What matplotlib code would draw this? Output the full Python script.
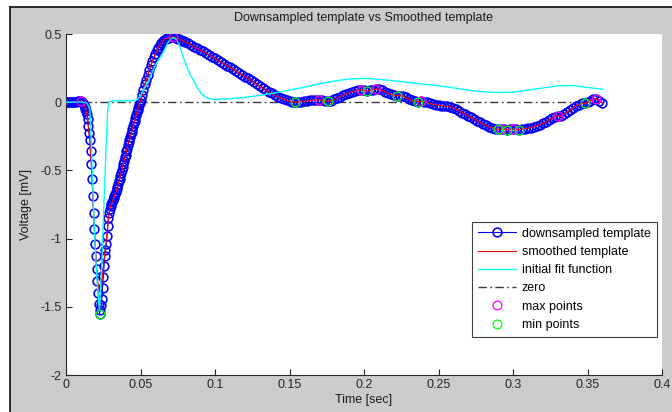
import numpy as np
import matplotlib
matplotlib.use("Agg")
import matplotlib.pyplot as plt
from matplotlib.patches import Rectangle
from matplotlib.lines import Line2D

plt.rcParams['font.family'] = ['Liberation Sans', 'DejaVu Sans']

# ---- downsampled template (voltage in mV), sampled in segments of different step
seg1_start, seg1_step = 0.000, 0.001
seg1_v = [0.000, 0.000, 0.000, 0.001, 0.001, 0.002, 0.003, 0.004, 0.006, 0.007, 0.008]

seg2_start, seg2_step = 0.011, 0.0005
seg2_v = [0.004, -0.005, -0.018, -0.032, -0.048, -0.065, -0.085, -0.125, -0.175, -0.225,
          -0.280, -0.360, -0.450, -0.560, -0.690, -0.810, -0.930, -1.040, -1.130, -1.220,
          -1.310, -1.400, -1.480, -1.550, -1.520, -1.490, -1.440, -1.360, -1.280, -1.200,
          -1.130, -1.080, -1.040, -0.980, -0.910, -0.850, -0.810, -0.780, -0.760, -0.745,
          -0.730, -0.715, -0.700, -0.685, -0.670, -0.655, -0.640, -0.620, -0.600, -0.580,
          -0.560, -0.540, -0.520, -0.500, -0.475, -0.450, -0.430, -0.405, -0.385, -0.360,
          -0.340, -0.315, -0.295, -0.275, -0.255, -0.235, -0.215, -0.195, -0.175, -0.155,
          -0.135, -0.115, -0.095, -0.075, -0.058, -0.040, -0.022, -0.004, 0.015]

seg3_start, seg3_step = 0.051, 0.001
seg3_v = [0.050, 0.090, 0.130, 0.165, 0.200, 0.235, 0.270, 0.300, 0.330, 0.355,
          0.380, 0.400, 0.420, 0.435, 0.448, 0.458, 0.465, 0.470, 0.473, 0.475,
          0.477, 0.478, 0.476, 0.472, 0.467, 0.462, 0.457, 0.452, 0.447, 0.442]

seg4_start, seg4_step = 0.082, 0.002
seg4_v = [0.432, 0.420, 0.408, 0.396, 0.384, 0.372, 0.360, 0.347, 0.334, 0.321,
          0.308, 0.295, 0.282, 0.269, 0.256, 0.243, 0.230, 0.216, 0.202, 0.188,
          0.174, 0.160, 0.146, 0.132, 0.118, 0.104, 0.090, 0.077, 0.064, 0.052,
          0.041, 0.031, 0.022, 0.014, 0.008, 0.003, 0.001, 0.002, 0.004, 0.007,
          0.010, 0.013, 0.015, 0.017, 0.018, 0.013, 0.009, 0.008, 0.012, 0.020,
          0.030, 0.040, 0.050, 0.060, 0.068, 0.076, 0.083, 0.088, 0.090, 0.087,
          0.082, 0.086, 0.093, 0.097, 0.094, 0.088, 0.078, 0.067, 0.058, 0.051,
          0.047, 0.049, 0.044, 0.035, 0.025, 0.015, 0.007, 0.005, 0.008, 0.004,
          -0.002, -0.008, -0.014, -0.018, -0.022, -0.025, -0.028, -0.031, -0.035, -0.042,
          -0.052, -0.064, -0.076, -0.088, -0.100, -0.112, -0.124, -0.136, -0.148, -0.160,
          -0.170, -0.179, -0.187, -0.194, -0.200, -0.196, -0.198, -0.202, -0.199, -0.197,
          -0.199, -0.203, -0.198, -0.194, -0.190, -0.186, -0.180, -0.172, -0.164, -0.155,
          -0.146, -0.132, -0.118, -0.106, -0.100, -0.101, -0.090, -0.075, -0.060, -0.045,
          -0.030, -0.018, -0.008, -0.009, 0.002, 0.012, 0.020, 0.024, 0.012, -0.008]

# smoothed template differs from the downsampled one only around the sharp dip
smooth_dip_start = 0.0175
smooth_dip_v = [-0.56, -0.68, -0.80, -0.91, -1.02, -1.11, -1.20, -1.27, -1.33, -1.37,
                -1.39, -1.39, -1.37, -1.33, -1.28, -1.22, -1.16, -1.10, -1.06, -1.02, -0.97]

# initial fit function
fit_t = [0.000, 0.010, 0.014, 0.016, 0.017, 0.018, 0.019, 0.020, 0.021, 0.022,
         0.0225, 0.023, 0.024, 0.025, 0.026, 0.027, 0.028, 0.029, 0.031, 0.035,
         0.040, 0.045, 0.048, 0.050, 0.052, 0.054, 0.056, 0.058, 0.060, 0.062,
         0.064, 0.066, 0.068, 0.070, 0.072, 0.074, 0.076, 0.078, 0.080, 0.082,
         0.084, 0.086, 0.088, 0.090, 0.092, 0.094, 0.096, 0.100, 0.110, 0.120,
         0.130, 0.140, 0.150, 0.160, 0.170, 0.180, 0.190, 0.200, 0.210, 0.220,
         0.230, 0.240, 0.250, 0.260, 0.270, 0.280, 0.290, 0.300, 0.310, 0.320,
         0.330, 0.340, 0.350, 0.360]
fit_v = [0.000, 0.002, -0.005, -0.050, -0.300, -0.620, -0.920, -1.150, -1.330, -1.470,
         -1.520, -1.400, -1.200, -0.880, -0.600, -0.300, -0.060, 0.000, 0.010, 0.010,
         0.010, 0.012, 0.020, 0.045, 0.090, 0.130, 0.170, 0.220, 0.270, 0.310,
         0.340, 0.380, 0.430, 0.460, 0.475, 0.460, 0.420, 0.350, 0.290, 0.235,
         0.190, 0.150, 0.110, 0.075, 0.050, 0.035, 0.027, 0.020, 0.025, 0.035,
         0.050, 0.068, 0.088, 0.110, 0.135, 0.155, 0.170, 0.175, 0.168, 0.157,
         0.145, 0.132, 0.120, 0.105, 0.088, 0.076, 0.071, 0.074, 0.088, 0.105,
         0.120, 0.122, 0.108, 0.095]

# local extrema of the template
max_t = [0.010, 0.072, 0.170, 0.198, 0.208, 0.238, 0.292, 0.300, 0.330, 0.356]
max_v = [0.008, 0.478, 0.018, 0.090, 0.097, 0.008, -0.196, -0.197, -0.100, 0.024]
min_t = [0.0225, 0.154, 0.176, 0.202, 0.222, 0.236, 0.290, 0.296, 0.304, 0.348]
min_v = [-1.550, 0.001, 0.008, 0.082, 0.047, 0.005, -0.200, -0.202, -0.203, -0.009]


def seg_times(start, step, vals):
    return start + step * np.arange(len(vals))


t_ds = np.concatenate([seg_times(seg1_start, seg1_step, seg1_v),
                       seg_times(seg2_start, seg2_step, seg2_v),
                       seg_times(seg3_start, seg3_step, seg3_v),
                       seg_times(seg4_start, seg4_step, seg4_v)])
v_ds = np.concatenate([seg1_v, seg2_v, seg3_v, seg4_v])

v_sm = v_ds.copy()
i0 = int(np.argmin(np.abs(t_ds - smooth_dip_start)))
v_sm[i0:i0 + len(smooth_dip_v)] = smooth_dip_v

W, H = 672, 412
fig = plt.figure(figsize=(W / 100, H / 100), dpi=100)
fig.patch.set_facecolor('white')

# window-like grey panel with dark frame on top and left
fig.add_artist(Rectangle((10 / W, 0), 1 - 10 / W, 1 - 7 / H, transform=fig.transFigure,
                         facecolor='#cccccc', edgecolor='none', zorder=-10))
fig.add_artist(Line2D([10 / W, 1], [1 - 7 / H, 1 - 7 / H], transform=fig.transFigure,
                      color='#1a1a1a', lw=1.3, zorder=-5))
fig.add_artist(Line2D([10 / W, 10 / W], [0, 1 - 7 / H], transform=fig.transFigure,
                      color='#1a1a1a', lw=1.3, zorder=-5))

ax_l, ax_r, ax_t, ax_b = 66, 662, 34, 375
ax = fig.add_axes([ax_l / W, 1 - ax_b / H, (ax_r - ax_l) / W, (ax_b - ax_t) / H])
ax.set_facecolor('white')

h_zero, = ax.plot([0, 0.36], [0, 0], color='#3a3a3a', lw=1.0,
                  dashes=(6, 2.5, 1.2, 2.5), zorder=1, label='zero')
h_ds, = ax.plot(t_ds, v_ds, color='#0000ff', lw=0.8, marker='o', ms=6.3, mew=1.15,
                mfc='none', mec='#0000ff', zorder=2, label='downsampled template')
h_sm, = ax.plot(t_ds, v_sm, color='#ff0000', lw=0.8, zorder=3, label='smoothed template')
h_fit, = ax.plot(fit_t, fit_v, color='#00ffff', lw=1.0, zorder=4, label='initial fit function')
h_max, = ax.plot(max_t, max_v, ls='none', marker='o', ms=6.3, mew=0.9, mfc='none',
                 mec='#ff00ff', zorder=5, label='max points')
h_min, = ax.plot(min_t, min_v, ls='none', marker='o', ms=6.3, mew=0.9, mfc='none',
                 mec='#00ff00', zorder=6, label='min points')

ax.set_xlim(0, 0.4)
ax.set_ylim(-2, 0.5)
ax.set_xticks([0, 0.05, 0.1, 0.15, 0.2, 0.25, 0.3, 0.35, 0.4])
ax.set_xticklabels(['0', '0.05', '0.1', '0.15', '0.2', '0.25', '0.3', '0.35', '0.4'])
ax.set_yticks([-2, -1.5, -1, -0.5, 0, 0.5])
ax.set_yticklabels(['-2', '-1.5', '-1', '-0.5', '0', '0.5'])

for s in ['top', 'right']:
    ax.spines[s].set_visible(False)
for s in ['left', 'bottom']:
    ax.spines[s].set_color('#262626')
    ax.spines[s].set_linewidth(0.8)
ax.tick_params(direction='in', length=4, width=0.8, color='#262626',
               labelsize=9, labelcolor='#262633', pad=3)

ax.set_xlabel('Time [sec]', fontsize=9, color='#1a1a1a', labelpad=2)
ax.set_ylabel('Voltage [mV]', fontsize=9, color='#1a1a1a', labelpad=6)
fig.text((ax_l + ax_r) / 2 / W, 1 - 18 / H, 'Downsampled template vs Smoothed template',
         ha='center', va='center', fontsize=9, color='#1a1a1a')

leg = ax.legend(handles=[h_ds, h_sm, h_fit, h_zero, h_max, h_min],
                loc='upper left', bbox_to_anchor=((472 - ax_l) / (ax_r - ax_l),
                                                  (ax_b - 222) / (ax_b - ax_t)),
                fontsize=9, frameon=True, fancybox=False, framealpha=1,
                edgecolor='#404040', borderpad=0.45, labelspacing=0.5,
                handlelength=3.1, handletextpad=0.45, borderaxespad=0, numpoints=1)
leg.get_frame().set_linewidth(0.8)

fig.savefig('out.png', dpi=100, facecolor=fig.get_facecolor())
